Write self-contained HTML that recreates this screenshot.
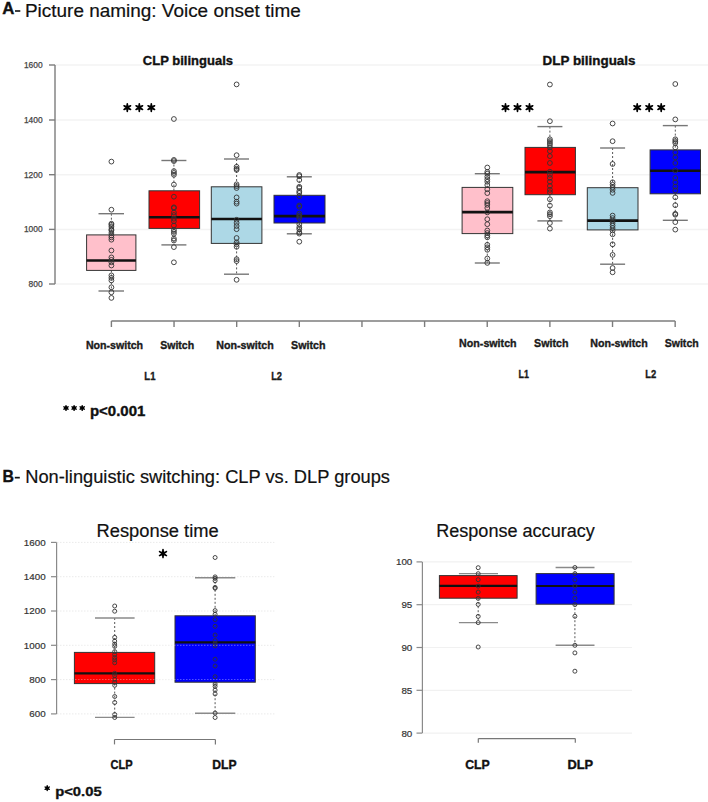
<!DOCTYPE html><html><head><meta charset="utf-8"><style>html,body{margin:0;padding:0;background:#fff;}svg{display:block;}</style></head><body>
<svg width="708" height="802" viewBox="0 0 708 802" font-family='"Liberation Sans", sans-serif'>
<rect width="708" height="802" fill="#fff"/>
<line x1="55" y1="65" x2="708" y2="65" stroke="#f3f3f3" stroke-width="1.5"/>
<line x1="55" y1="120" x2="708" y2="120" stroke="#f3f3f3" stroke-width="1.5"/>
<line x1="55" y1="174.7" x2="708" y2="174.7" stroke="#f3f3f3" stroke-width="1.5"/>
<line x1="55" y1="229.4" x2="708" y2="229.4" stroke="#f3f3f3" stroke-width="1.5"/>
<line x1="55" y1="284" x2="708" y2="284" stroke="#f3f3f3" stroke-width="1.5"/>
<line x1="55" y1="65" x2="55" y2="284" stroke="#7c7c7c" stroke-width="1.4"/>
<line x1="49" y1="65" x2="55" y2="65" stroke="#7c7c7c" stroke-width="1.4"/>
<text x="42.6" y="67.9" font-size="8.4" fill="#444" text-anchor="end" stroke="#444" stroke-width="0.25">1600</text>
<line x1="49" y1="120" x2="55" y2="120" stroke="#7c7c7c" stroke-width="1.4"/>
<text x="42.6" y="122.9" font-size="8.4" fill="#444" text-anchor="end" stroke="#444" stroke-width="0.25">1400</text>
<line x1="49" y1="174.7" x2="55" y2="174.7" stroke="#7c7c7c" stroke-width="1.4"/>
<text x="42.6" y="177.6" font-size="8.4" fill="#444" text-anchor="end" stroke="#444" stroke-width="0.25">1200</text>
<line x1="49" y1="229.4" x2="55" y2="229.4" stroke="#7c7c7c" stroke-width="1.4"/>
<text x="42.6" y="232.3" font-size="8.4" fill="#444" text-anchor="end" stroke="#444" stroke-width="0.25">1000</text>
<line x1="49" y1="284" x2="55" y2="284" stroke="#7c7c7c" stroke-width="1.4"/>
<text x="42.6" y="286.9" font-size="8.4" fill="#444" text-anchor="end" stroke="#444" stroke-width="0.25">800</text>
<line x1="111.4" y1="321" x2="675.16" y2="321" stroke="#7c7c7c" stroke-width="1.4"/>
<line x1="111.4" y1="321" x2="111.4" y2="327" stroke="#7c7c7c" stroke-width="1.4"/>
<line x1="174.04000000000002" y1="321" x2="174.04000000000002" y2="327" stroke="#7c7c7c" stroke-width="1.4"/>
<line x1="236.68" y1="321" x2="236.68" y2="327" stroke="#7c7c7c" stroke-width="1.4"/>
<line x1="299.32000000000005" y1="321" x2="299.32000000000005" y2="327" stroke="#7c7c7c" stroke-width="1.4"/>
<line x1="361.96000000000004" y1="321" x2="361.96000000000004" y2="327" stroke="#7c7c7c" stroke-width="1.4"/>
<line x1="424.6" y1="321" x2="424.6" y2="327" stroke="#7c7c7c" stroke-width="1.4"/>
<line x1="487.24" y1="321" x2="487.24" y2="327" stroke="#7c7c7c" stroke-width="1.4"/>
<line x1="549.88" y1="321" x2="549.88" y2="327" stroke="#7c7c7c" stroke-width="1.4"/>
<line x1="612.52" y1="321" x2="612.52" y2="327" stroke="#7c7c7c" stroke-width="1.4"/>
<line x1="675.16" y1="321" x2="675.16" y2="327" stroke="#7c7c7c" stroke-width="1.4"/>
<line x1="111.4" y1="213.7" x2="111.4" y2="234.9" stroke="#444" stroke-width="0.9" stroke-dasharray="2,2"/>
<line x1="111.4" y1="270.4" x2="111.4" y2="291" stroke="#444" stroke-width="0.9" stroke-dasharray="2,2"/>
<line x1="98.5" y1="213.7" x2="124" y2="213.7" stroke="#777" stroke-width="1.4"/>
<line x1="98.5" y1="291" x2="124" y2="291" stroke="#777" stroke-width="1.4"/>
<rect x="86.6" y="234.9" width="49.30000000000001" height="35.49999999999997" fill="#ffc0cb" stroke="#333" stroke-width="1"/>
<line x1="86.6" y1="260.5" x2="135.9" y2="260.5" stroke="#111" stroke-width="2.6"/>
<circle cx="111.4" cy="161.6" r="2.4" fill="none" stroke="#333" stroke-width="0.9"/>
<circle cx="111.4" cy="209.7" r="2.4" fill="none" stroke="#333" stroke-width="0.9"/>
<circle cx="111.4" cy="223.7" r="2.4" fill="none" stroke="#333" stroke-width="0.9"/>
<circle cx="111.4" cy="224.9" r="2.4" fill="none" stroke="#333" stroke-width="0.9"/>
<circle cx="111.4" cy="226.8" r="2.4" fill="none" stroke="#333" stroke-width="0.9"/>
<circle cx="111.4" cy="229.3" r="2.4" fill="none" stroke="#333" stroke-width="0.9"/>
<circle cx="111.4" cy="230.5" r="2.4" fill="none" stroke="#333" stroke-width="0.9"/>
<circle cx="111.4" cy="233" r="2.4" fill="none" stroke="#333" stroke-width="0.9"/>
<circle cx="111.4" cy="235.5" r="2.4" fill="none" stroke="#333" stroke-width="0.9"/>
<circle cx="111.4" cy="237.4" r="2.4" fill="none" stroke="#333" stroke-width="0.9"/>
<circle cx="111.4" cy="239.7" r="2.4" fill="none" stroke="#333" stroke-width="0.9"/>
<circle cx="111.4" cy="250.5" r="2.4" fill="none" stroke="#333" stroke-width="0.9"/>
<circle cx="111.4" cy="257.4" r="2.4" fill="none" stroke="#333" stroke-width="0.9"/>
<circle cx="111.4" cy="259.9" r="2.4" fill="none" stroke="#333" stroke-width="0.9"/>
<circle cx="111.4" cy="262.3" r="2.4" fill="none" stroke="#333" stroke-width="0.9"/>
<circle cx="111.4" cy="265.5" r="2.4" fill="none" stroke="#333" stroke-width="0.9"/>
<circle cx="111.4" cy="275.4" r="2.4" fill="none" stroke="#333" stroke-width="0.9"/>
<circle cx="111.4" cy="277.9" r="2.4" fill="none" stroke="#333" stroke-width="0.9"/>
<circle cx="111.4" cy="280.4" r="2.4" fill="none" stroke="#333" stroke-width="0.9"/>
<circle cx="111.4" cy="287.3" r="2.4" fill="none" stroke="#333" stroke-width="0.9"/>
<circle cx="111.4" cy="292.3" r="2.4" fill="none" stroke="#333" stroke-width="0.9"/>
<circle cx="111.4" cy="297.9" r="2.4" fill="none" stroke="#333" stroke-width="0.9"/>
<line x1="173.9" y1="160.5" x2="173.9" y2="190.8" stroke="#444" stroke-width="0.9" stroke-dasharray="2,2"/>
<line x1="173.9" y1="228.4" x2="173.9" y2="244.9" stroke="#444" stroke-width="0.9" stroke-dasharray="2,2"/>
<line x1="161.4" y1="160.5" x2="186.4" y2="160.5" stroke="#777" stroke-width="1.4"/>
<line x1="161.4" y1="244.9" x2="186.4" y2="244.9" stroke="#777" stroke-width="1.4"/>
<rect x="149" y="190.8" width="50.599999999999994" height="37.599999999999994" fill="#ff0000" stroke="#333" stroke-width="1"/>
<line x1="149" y1="217.2" x2="199.6" y2="217.2" stroke="#111" stroke-width="2.6"/>
<circle cx="173.9" cy="119" r="2.4" fill="none" stroke="#333" stroke-width="0.9"/>
<circle cx="173.9" cy="159.9" r="2.4" fill="none" stroke="#333" stroke-width="0.9"/>
<circle cx="173.9" cy="161.1" r="2.4" fill="none" stroke="#333" stroke-width="0.9"/>
<circle cx="173.9" cy="171.1" r="2.4" fill="none" stroke="#333" stroke-width="0.9"/>
<circle cx="173.9" cy="173" r="2.4" fill="none" stroke="#333" stroke-width="0.9"/>
<circle cx="173.9" cy="174.8" r="2.4" fill="none" stroke="#333" stroke-width="0.9"/>
<circle cx="173.9" cy="184.6" r="2.4" fill="none" stroke="#333" stroke-width="0.9"/>
<circle cx="173.9" cy="196.7" r="2.4" fill="none" stroke="#333" stroke-width="0.9"/>
<circle cx="173.9" cy="207.3" r="2.4" fill="none" stroke="#333" stroke-width="0.9"/>
<circle cx="173.9" cy="208.1" r="2.4" fill="none" stroke="#333" stroke-width="0.9"/>
<circle cx="173.9" cy="212.5" r="2.4" fill="none" stroke="#333" stroke-width="0.9"/>
<circle cx="173.9" cy="215" r="2.4" fill="none" stroke="#333" stroke-width="0.9"/>
<circle cx="173.9" cy="218.7" r="2.4" fill="none" stroke="#333" stroke-width="0.9"/>
<circle cx="173.9" cy="221.2" r="2.4" fill="none" stroke="#333" stroke-width="0.9"/>
<circle cx="173.9" cy="225.5" r="2.4" fill="none" stroke="#333" stroke-width="0.9"/>
<circle cx="173.9" cy="229.9" r="2.4" fill="none" stroke="#333" stroke-width="0.9"/>
<circle cx="173.9" cy="231.8" r="2.4" fill="none" stroke="#333" stroke-width="0.9"/>
<circle cx="173.9" cy="233.7" r="2.4" fill="none" stroke="#333" stroke-width="0.9"/>
<circle cx="173.9" cy="238.6" r="2.4" fill="none" stroke="#333" stroke-width="0.9"/>
<circle cx="173.9" cy="240.5" r="2.4" fill="none" stroke="#333" stroke-width="0.9"/>
<circle cx="173.9" cy="247.1" r="2.4" fill="none" stroke="#333" stroke-width="0.9"/>
<circle cx="173.9" cy="262.3" r="2.4" fill="none" stroke="#333" stroke-width="0.9"/>
<line x1="236.6" y1="159" x2="236.6" y2="186.8" stroke="#444" stroke-width="0.9" stroke-dasharray="2,2"/>
<line x1="236.6" y1="243.4" x2="236.6" y2="274.2" stroke="#444" stroke-width="0.9" stroke-dasharray="2,2"/>
<line x1="224" y1="159" x2="249" y2="159" stroke="#777" stroke-width="1.4"/>
<line x1="224" y1="274.2" x2="249" y2="274.2" stroke="#777" stroke-width="1.4"/>
<rect x="211.3" y="186.8" width="50.599999999999966" height="56.599999999999994" fill="#add8e6" stroke="#333" stroke-width="1"/>
<line x1="211.3" y1="219" x2="261.9" y2="219" stroke="#111" stroke-width="2.6"/>
<circle cx="236.6" cy="84.4" r="2.4" fill="none" stroke="#333" stroke-width="0.9"/>
<circle cx="236.6" cy="155.2" r="2.4" fill="none" stroke="#333" stroke-width="0.9"/>
<circle cx="236.6" cy="166.8" r="2.4" fill="none" stroke="#333" stroke-width="0.9"/>
<circle cx="236.6" cy="168.7" r="2.4" fill="none" stroke="#333" stroke-width="0.9"/>
<circle cx="236.6" cy="169.9" r="2.4" fill="none" stroke="#333" stroke-width="0.9"/>
<circle cx="236.6" cy="184.3" r="2.4" fill="none" stroke="#333" stroke-width="0.9"/>
<circle cx="236.6" cy="186.1" r="2.4" fill="none" stroke="#333" stroke-width="0.9"/>
<circle cx="236.6" cy="188" r="2.4" fill="none" stroke="#333" stroke-width="0.9"/>
<circle cx="236.6" cy="197.4" r="2.4" fill="none" stroke="#333" stroke-width="0.9"/>
<circle cx="236.6" cy="201.7" r="2.4" fill="none" stroke="#333" stroke-width="0.9"/>
<circle cx="236.6" cy="203.6" r="2.4" fill="none" stroke="#333" stroke-width="0.9"/>
<circle cx="236.6" cy="219.8" r="2.4" fill="none" stroke="#333" stroke-width="0.9"/>
<circle cx="236.6" cy="222.9" r="2.4" fill="none" stroke="#333" stroke-width="0.9"/>
<circle cx="236.6" cy="226" r="2.4" fill="none" stroke="#333" stroke-width="0.9"/>
<circle cx="236.6" cy="229.2" r="2.4" fill="none" stroke="#333" stroke-width="0.9"/>
<circle cx="236.6" cy="238" r="2.4" fill="none" stroke="#333" stroke-width="0.9"/>
<circle cx="236.6" cy="242.4" r="2.4" fill="none" stroke="#333" stroke-width="0.9"/>
<circle cx="236.6" cy="244.3" r="2.4" fill="none" stroke="#333" stroke-width="0.9"/>
<circle cx="236.6" cy="246.8" r="2.4" fill="none" stroke="#333" stroke-width="0.9"/>
<circle cx="236.6" cy="259.2" r="2.4" fill="none" stroke="#333" stroke-width="0.9"/>
<circle cx="236.6" cy="261.1" r="2.4" fill="none" stroke="#333" stroke-width="0.9"/>
<circle cx="236.6" cy="279.8" r="2.4" fill="none" stroke="#333" stroke-width="0.9"/>
<line x1="299.3" y1="176.8" x2="299.3" y2="195.3" stroke="#444" stroke-width="0.9" stroke-dasharray="2,2"/>
<line x1="299.3" y1="223" x2="299.3" y2="233.8" stroke="#444" stroke-width="0.9" stroke-dasharray="2,2"/>
<line x1="286.8" y1="176.8" x2="311.8" y2="176.8" stroke="#777" stroke-width="1.4"/>
<line x1="286.8" y1="233.8" x2="311.8" y2="233.8" stroke="#777" stroke-width="1.4"/>
<rect x="274" y="195.3" width="51" height="27.69999999999999" fill="#0000ff" stroke="#333" stroke-width="1"/>
<line x1="274" y1="216.1" x2="325" y2="216.1" stroke="#111" stroke-width="2.6"/>
<circle cx="299.3" cy="175" r="2.4" fill="none" stroke="#333" stroke-width="0.9"/>
<circle cx="299.3" cy="176.2" r="2.4" fill="none" stroke="#333" stroke-width="0.9"/>
<circle cx="299.3" cy="180" r="2.4" fill="none" stroke="#333" stroke-width="0.9"/>
<circle cx="299.3" cy="186.8" r="2.4" fill="none" stroke="#333" stroke-width="0.9"/>
<circle cx="299.3" cy="188" r="2.4" fill="none" stroke="#333" stroke-width="0.9"/>
<circle cx="299.3" cy="191.2" r="2.4" fill="none" stroke="#333" stroke-width="0.9"/>
<circle cx="299.3" cy="193" r="2.4" fill="none" stroke="#333" stroke-width="0.9"/>
<circle cx="299.3" cy="196.2" r="2.4" fill="none" stroke="#333" stroke-width="0.9"/>
<circle cx="299.3" cy="205.5" r="2.4" fill="none" stroke="#333" stroke-width="0.9"/>
<circle cx="299.3" cy="206.8" r="2.4" fill="none" stroke="#333" stroke-width="0.9"/>
<circle cx="299.3" cy="213.6" r="2.4" fill="none" stroke="#333" stroke-width="0.9"/>
<circle cx="299.3" cy="215.5" r="2.4" fill="none" stroke="#333" stroke-width="0.9"/>
<circle cx="299.3" cy="216.7" r="2.4" fill="none" stroke="#333" stroke-width="0.9"/>
<circle cx="299.3" cy="218.6" r="2.4" fill="none" stroke="#333" stroke-width="0.9"/>
<circle cx="299.3" cy="224.2" r="2.4" fill="none" stroke="#333" stroke-width="0.9"/>
<circle cx="299.3" cy="227.3" r="2.4" fill="none" stroke="#333" stroke-width="0.9"/>
<circle cx="299.3" cy="229.2" r="2.4" fill="none" stroke="#333" stroke-width="0.9"/>
<circle cx="299.3" cy="232.3" r="2.4" fill="none" stroke="#333" stroke-width="0.9"/>
<circle cx="299.3" cy="233.6" r="2.4" fill="none" stroke="#333" stroke-width="0.9"/>
<circle cx="299.3" cy="241.7" r="2.4" fill="none" stroke="#333" stroke-width="0.9"/>
<line x1="487.3" y1="173.7" x2="487.3" y2="187.4" stroke="#444" stroke-width="0.9" stroke-dasharray="2,2"/>
<line x1="487.3" y1="233.6" x2="487.3" y2="263" stroke="#444" stroke-width="0.9" stroke-dasharray="2,2"/>
<line x1="474.8" y1="173.7" x2="499.8" y2="173.7" stroke="#777" stroke-width="1.4"/>
<line x1="474.8" y1="263" x2="499.8" y2="263" stroke="#777" stroke-width="1.4"/>
<rect x="462.1" y="187.4" width="50.69999999999993" height="46.19999999999999" fill="#ffc0cb" stroke="#333" stroke-width="1"/>
<line x1="462.1" y1="212.1" x2="512.8" y2="212.1" stroke="#111" stroke-width="2.6"/>
<circle cx="487.3" cy="167.5" r="2.4" fill="none" stroke="#333" stroke-width="0.9"/>
<circle cx="487.3" cy="171.9" r="2.4" fill="none" stroke="#333" stroke-width="0.9"/>
<circle cx="487.3" cy="173.7" r="2.4" fill="none" stroke="#333" stroke-width="0.9"/>
<circle cx="487.3" cy="176.8" r="2.4" fill="none" stroke="#333" stroke-width="0.9"/>
<circle cx="487.3" cy="179.3" r="2.4" fill="none" stroke="#333" stroke-width="0.9"/>
<circle cx="487.3" cy="181.8" r="2.4" fill="none" stroke="#333" stroke-width="0.9"/>
<circle cx="487.3" cy="185" r="2.4" fill="none" stroke="#333" stroke-width="0.9"/>
<circle cx="487.3" cy="189.3" r="2.4" fill="none" stroke="#333" stroke-width="0.9"/>
<circle cx="487.3" cy="193.1" r="2.4" fill="none" stroke="#333" stroke-width="0.9"/>
<circle cx="487.3" cy="201.2" r="2.4" fill="none" stroke="#333" stroke-width="0.9"/>
<circle cx="487.3" cy="203" r="2.4" fill="none" stroke="#333" stroke-width="0.9"/>
<circle cx="487.3" cy="204.9" r="2.4" fill="none" stroke="#333" stroke-width="0.9"/>
<circle cx="487.3" cy="208" r="2.4" fill="none" stroke="#333" stroke-width="0.9"/>
<circle cx="487.3" cy="212.4" r="2.4" fill="none" stroke="#333" stroke-width="0.9"/>
<circle cx="487.3" cy="219.2" r="2.4" fill="none" stroke="#333" stroke-width="0.9"/>
<circle cx="487.3" cy="224.2" r="2.4" fill="none" stroke="#333" stroke-width="0.9"/>
<circle cx="487.3" cy="230.5" r="2.4" fill="none" stroke="#333" stroke-width="0.9"/>
<circle cx="487.3" cy="233" r="2.4" fill="none" stroke="#333" stroke-width="0.9"/>
<circle cx="487.3" cy="235.4" r="2.4" fill="none" stroke="#333" stroke-width="0.9"/>
<circle cx="487.3" cy="237.3" r="2.4" fill="none" stroke="#333" stroke-width="0.9"/>
<circle cx="487.3" cy="244.8" r="2.4" fill="none" stroke="#333" stroke-width="0.9"/>
<circle cx="487.3" cy="247.3" r="2.4" fill="none" stroke="#333" stroke-width="0.9"/>
<circle cx="487.3" cy="249.8" r="2.4" fill="none" stroke="#333" stroke-width="0.9"/>
<circle cx="487.3" cy="258.5" r="2.4" fill="none" stroke="#333" stroke-width="0.9"/>
<circle cx="487.3" cy="262.9" r="2.4" fill="none" stroke="#333" stroke-width="0.9"/>
<line x1="549.9" y1="126.6" x2="549.9" y2="147.4" stroke="#444" stroke-width="0.9" stroke-dasharray="2,2"/>
<line x1="549.9" y1="194.7" x2="549.9" y2="220.9" stroke="#444" stroke-width="0.9" stroke-dasharray="2,2"/>
<line x1="537.4" y1="126.6" x2="562.4" y2="126.6" stroke="#777" stroke-width="1.4"/>
<line x1="537.4" y1="220.9" x2="562.4" y2="220.9" stroke="#777" stroke-width="1.4"/>
<rect x="525" y="147.4" width="50.39999999999998" height="47.29999999999998" fill="#ff0000" stroke="#333" stroke-width="1"/>
<line x1="525" y1="172.1" x2="575.4" y2="172.1" stroke="#111" stroke-width="2.6"/>
<circle cx="549.9" cy="84.5" r="2.4" fill="none" stroke="#333" stroke-width="0.9"/>
<circle cx="549.9" cy="121.2" r="2.4" fill="none" stroke="#333" stroke-width="0.9"/>
<circle cx="549.9" cy="139.3" r="2.4" fill="none" stroke="#333" stroke-width="0.9"/>
<circle cx="549.9" cy="141.1" r="2.4" fill="none" stroke="#333" stroke-width="0.9"/>
<circle cx="549.9" cy="143" r="2.4" fill="none" stroke="#333" stroke-width="0.9"/>
<circle cx="549.9" cy="144.9" r="2.4" fill="none" stroke="#333" stroke-width="0.9"/>
<circle cx="549.9" cy="147.4" r="2.4" fill="none" stroke="#333" stroke-width="0.9"/>
<circle cx="549.9" cy="151.1" r="2.4" fill="none" stroke="#333" stroke-width="0.9"/>
<circle cx="549.9" cy="156.1" r="2.4" fill="none" stroke="#333" stroke-width="0.9"/>
<circle cx="549.9" cy="163" r="2.4" fill="none" stroke="#333" stroke-width="0.9"/>
<circle cx="549.9" cy="171.7" r="2.4" fill="none" stroke="#333" stroke-width="0.9"/>
<circle cx="549.9" cy="174.8" r="2.4" fill="none" stroke="#333" stroke-width="0.9"/>
<circle cx="549.9" cy="177.9" r="2.4" fill="none" stroke="#333" stroke-width="0.9"/>
<circle cx="549.9" cy="181.7" r="2.4" fill="none" stroke="#333" stroke-width="0.9"/>
<circle cx="549.9" cy="186" r="2.4" fill="none" stroke="#333" stroke-width="0.9"/>
<circle cx="549.9" cy="189.8" r="2.4" fill="none" stroke="#333" stroke-width="0.9"/>
<circle cx="549.9" cy="192.3" r="2.4" fill="none" stroke="#333" stroke-width="0.9"/>
<circle cx="549.9" cy="199.3" r="2.4" fill="none" stroke="#333" stroke-width="0.9"/>
<circle cx="549.9" cy="205.6" r="2.4" fill="none" stroke="#333" stroke-width="0.9"/>
<circle cx="549.9" cy="212.4" r="2.4" fill="none" stroke="#333" stroke-width="0.9"/>
<circle cx="549.9" cy="214.3" r="2.4" fill="none" stroke="#333" stroke-width="0.9"/>
<circle cx="549.9" cy="216.2" r="2.4" fill="none" stroke="#333" stroke-width="0.9"/>
<circle cx="549.9" cy="223" r="2.4" fill="none" stroke="#333" stroke-width="0.9"/>
<circle cx="549.9" cy="228.6" r="2.4" fill="none" stroke="#333" stroke-width="0.9"/>
<line x1="612.6" y1="148" x2="612.6" y2="187.7" stroke="#444" stroke-width="0.9" stroke-dasharray="2,2"/>
<line x1="612.6" y1="229.9" x2="612.6" y2="264.2" stroke="#444" stroke-width="0.9" stroke-dasharray="2,2"/>
<line x1="600.1" y1="148" x2="625.1" y2="148" stroke="#777" stroke-width="1.4"/>
<line x1="600.1" y1="264.2" x2="625.1" y2="264.2" stroke="#777" stroke-width="1.4"/>
<rect x="587.3" y="187.7" width="50.700000000000045" height="42.20000000000002" fill="#add8e6" stroke="#333" stroke-width="1"/>
<line x1="587.3" y1="220.6" x2="638" y2="220.6" stroke="#111" stroke-width="2.6"/>
<circle cx="612.6" cy="123.5" r="2.4" fill="none" stroke="#333" stroke-width="0.9"/>
<circle cx="612.6" cy="141.2" r="2.4" fill="none" stroke="#333" stroke-width="0.9"/>
<circle cx="612.6" cy="164" r="2.4" fill="none" stroke="#333" stroke-width="0.9"/>
<circle cx="612.6" cy="182.3" r="2.4" fill="none" stroke="#333" stroke-width="0.9"/>
<circle cx="612.6" cy="184.8" r="2.4" fill="none" stroke="#333" stroke-width="0.9"/>
<circle cx="612.6" cy="187.3" r="2.4" fill="none" stroke="#333" stroke-width="0.9"/>
<circle cx="612.6" cy="189.8" r="2.4" fill="none" stroke="#333" stroke-width="0.9"/>
<circle cx="612.6" cy="192.9" r="2.4" fill="none" stroke="#333" stroke-width="0.9"/>
<circle cx="612.6" cy="215.6" r="2.4" fill="none" stroke="#333" stroke-width="0.9"/>
<circle cx="612.6" cy="218.1" r="2.4" fill="none" stroke="#333" stroke-width="0.9"/>
<circle cx="612.6" cy="220.6" r="2.4" fill="none" stroke="#333" stroke-width="0.9"/>
<circle cx="612.6" cy="223.1" r="2.4" fill="none" stroke="#333" stroke-width="0.9"/>
<circle cx="612.6" cy="225.6" r="2.4" fill="none" stroke="#333" stroke-width="0.9"/>
<circle cx="612.6" cy="228.1" r="2.4" fill="none" stroke="#333" stroke-width="0.9"/>
<circle cx="612.6" cy="230.5" r="2.4" fill="none" stroke="#333" stroke-width="0.9"/>
<circle cx="612.6" cy="234.3" r="2.4" fill="none" stroke="#333" stroke-width="0.9"/>
<circle cx="612.6" cy="244.3" r="2.4" fill="none" stroke="#333" stroke-width="0.9"/>
<circle cx="612.6" cy="254.9" r="2.4" fill="none" stroke="#333" stroke-width="0.9"/>
<circle cx="612.6" cy="268" r="2.4" fill="none" stroke="#333" stroke-width="0.9"/>
<circle cx="612.6" cy="272.3" r="2.4" fill="none" stroke="#333" stroke-width="0.9"/>
<line x1="675.3" y1="125.6" x2="675.3" y2="149.9" stroke="#444" stroke-width="0.9" stroke-dasharray="2,2"/>
<line x1="675.3" y1="193.8" x2="675.3" y2="220.3" stroke="#444" stroke-width="0.9" stroke-dasharray="2,2"/>
<line x1="662.8" y1="125.6" x2="687.8" y2="125.6" stroke="#777" stroke-width="1.4"/>
<line x1="662.8" y1="220.3" x2="687.8" y2="220.3" stroke="#777" stroke-width="1.4"/>
<rect x="650.1" y="149.9" width="50.39999999999998" height="43.900000000000006" fill="#0000ff" stroke="#333" stroke-width="1"/>
<line x1="650.1" y1="170.8" x2="700.5" y2="170.8" stroke="#111" stroke-width="2.6"/>
<circle cx="675.3" cy="84" r="2.4" fill="none" stroke="#333" stroke-width="0.9"/>
<circle cx="675.3" cy="119.4" r="2.4" fill="none" stroke="#333" stroke-width="0.9"/>
<circle cx="675.3" cy="139.3" r="2.4" fill="none" stroke="#333" stroke-width="0.9"/>
<circle cx="675.3" cy="141.2" r="2.4" fill="none" stroke="#333" stroke-width="0.9"/>
<circle cx="675.3" cy="143" r="2.4" fill="none" stroke="#333" stroke-width="0.9"/>
<circle cx="675.3" cy="147.4" r="2.4" fill="none" stroke="#333" stroke-width="0.9"/>
<circle cx="675.3" cy="152.4" r="2.4" fill="none" stroke="#333" stroke-width="0.9"/>
<circle cx="675.3" cy="157.4" r="2.4" fill="none" stroke="#333" stroke-width="0.9"/>
<circle cx="675.3" cy="163" r="2.4" fill="none" stroke="#333" stroke-width="0.9"/>
<circle cx="675.3" cy="170.5" r="2.4" fill="none" stroke="#333" stroke-width="0.9"/>
<circle cx="675.3" cy="178" r="2.4" fill="none" stroke="#333" stroke-width="0.9"/>
<circle cx="675.3" cy="182.3" r="2.4" fill="none" stroke="#333" stroke-width="0.9"/>
<circle cx="675.3" cy="186.7" r="2.4" fill="none" stroke="#333" stroke-width="0.9"/>
<circle cx="675.3" cy="190.4" r="2.4" fill="none" stroke="#333" stroke-width="0.9"/>
<circle cx="675.3" cy="197.3" r="2.4" fill="none" stroke="#333" stroke-width="0.9"/>
<circle cx="675.3" cy="205.2" r="2.4" fill="none" stroke="#333" stroke-width="0.9"/>
<circle cx="675.3" cy="213.8" r="2.4" fill="none" stroke="#333" stroke-width="0.9"/>
<circle cx="675.3" cy="214.7" r="2.4" fill="none" stroke="#333" stroke-width="0.9"/>
<circle cx="675.3" cy="222.1" r="2.4" fill="none" stroke="#333" stroke-width="0.9"/>
<circle cx="675.3" cy="229.6" r="2.4" fill="none" stroke="#333" stroke-width="0.9"/>
<path d="M128.54,107.60L128.10,103.80L126.50,103.80L126.06,107.60ZM128.10,103.80a0.80,0.80 0 1,0 -1.60,0a0.80,0.80 0 1,0 1.60,0ZM126.06,107.60L126.50,111.40L128.10,111.40L128.54,107.60ZM128.10,111.40a0.80,0.80 0 1,0 -1.60,0a0.80,0.80 0 1,0 1.60,0ZM127.92,108.67L130.99,106.39L130.19,105.01L126.68,106.53ZM131.39,105.70a0.80,0.80 0 1,0 -1.60,0a0.80,0.80 0 1,0 1.60,0ZM126.68,106.53L123.61,108.81L124.41,110.19L127.92,108.67ZM124.81,109.50a0.80,0.80 0 1,0 -1.60,0a0.80,0.80 0 1,0 1.60,0ZM126.68,108.67L130.19,110.19L130.99,108.81L127.92,106.53ZM131.39,109.50a0.80,0.80 0 1,0 -1.60,0a0.80,0.80 0 1,0 1.60,0ZM127.92,106.53L124.41,105.01L123.61,106.39L126.68,108.67ZM124.81,105.70a0.80,0.80 0 1,0 -1.60,0a0.80,0.80 0 1,0 1.60,0Z" fill="#000"/>
<circle cx="127.3" cy="107.6" r="1.36" fill="#000"/>
<path d="M140.54,107.60L140.10,103.80L138.50,103.80L138.06,107.60ZM140.10,103.80a0.80,0.80 0 1,0 -1.60,0a0.80,0.80 0 1,0 1.60,0ZM138.06,107.60L138.50,111.40L140.10,111.40L140.54,107.60ZM140.10,111.40a0.80,0.80 0 1,0 -1.60,0a0.80,0.80 0 1,0 1.60,0ZM139.92,108.67L142.99,106.39L142.19,105.01L138.68,106.53ZM143.39,105.70a0.80,0.80 0 1,0 -1.60,0a0.80,0.80 0 1,0 1.60,0ZM138.68,106.53L135.61,108.81L136.41,110.19L139.92,108.67ZM136.81,109.50a0.80,0.80 0 1,0 -1.60,0a0.80,0.80 0 1,0 1.60,0ZM138.68,108.67L142.19,110.19L142.99,108.81L139.92,106.53ZM143.39,109.50a0.80,0.80 0 1,0 -1.60,0a0.80,0.80 0 1,0 1.60,0ZM139.92,106.53L136.41,105.01L135.61,106.39L138.68,108.67ZM136.81,105.70a0.80,0.80 0 1,0 -1.60,0a0.80,0.80 0 1,0 1.60,0Z" fill="#000"/>
<circle cx="139.3" cy="107.6" r="1.36" fill="#000"/>
<path d="M152.54,107.60L152.10,103.80L150.50,103.80L150.06,107.60ZM152.10,103.80a0.80,0.80 0 1,0 -1.60,0a0.80,0.80 0 1,0 1.60,0ZM150.06,107.60L150.50,111.40L152.10,111.40L152.54,107.60ZM152.10,111.40a0.80,0.80 0 1,0 -1.60,0a0.80,0.80 0 1,0 1.60,0ZM151.92,108.67L154.99,106.39L154.19,105.01L150.68,106.53ZM155.39,105.70a0.80,0.80 0 1,0 -1.60,0a0.80,0.80 0 1,0 1.60,0ZM150.68,106.53L147.61,108.81L148.41,110.19L151.92,108.67ZM148.81,109.50a0.80,0.80 0 1,0 -1.60,0a0.80,0.80 0 1,0 1.60,0ZM150.68,108.67L154.19,110.19L154.99,108.81L151.92,106.53ZM155.39,109.50a0.80,0.80 0 1,0 -1.60,0a0.80,0.80 0 1,0 1.60,0ZM151.92,106.53L148.41,105.01L147.61,106.39L150.68,108.67ZM148.81,105.70a0.80,0.80 0 1,0 -1.60,0a0.80,0.80 0 1,0 1.60,0Z" fill="#000"/>
<circle cx="151.3" cy="107.6" r="1.36" fill="#000"/>
<path d="M506.74,107.60L506.30,103.80L504.70,103.80L504.26,107.60ZM506.30,103.80a0.80,0.80 0 1,0 -1.60,0a0.80,0.80 0 1,0 1.60,0ZM504.26,107.60L504.70,111.40L506.30,111.40L506.74,107.60ZM506.30,111.40a0.80,0.80 0 1,0 -1.60,0a0.80,0.80 0 1,0 1.60,0ZM506.12,108.67L509.19,106.39L508.39,105.01L504.88,106.53ZM509.59,105.70a0.80,0.80 0 1,0 -1.60,0a0.80,0.80 0 1,0 1.60,0ZM504.88,106.53L501.81,108.81L502.61,110.19L506.12,108.67ZM503.01,109.50a0.80,0.80 0 1,0 -1.60,0a0.80,0.80 0 1,0 1.60,0ZM504.88,108.67L508.39,110.19L509.19,108.81L506.12,106.53ZM509.59,109.50a0.80,0.80 0 1,0 -1.60,0a0.80,0.80 0 1,0 1.60,0ZM506.12,106.53L502.61,105.01L501.81,106.39L504.88,108.67ZM503.01,105.70a0.80,0.80 0 1,0 -1.60,0a0.80,0.80 0 1,0 1.60,0Z" fill="#000"/>
<circle cx="505.5" cy="107.6" r="1.36" fill="#000"/>
<path d="M518.74,107.60L518.30,103.80L516.70,103.80L516.26,107.60ZM518.30,103.80a0.80,0.80 0 1,0 -1.60,0a0.80,0.80 0 1,0 1.60,0ZM516.26,107.60L516.70,111.40L518.30,111.40L518.74,107.60ZM518.30,111.40a0.80,0.80 0 1,0 -1.60,0a0.80,0.80 0 1,0 1.60,0ZM518.12,108.67L521.19,106.39L520.39,105.01L516.88,106.53ZM521.59,105.70a0.80,0.80 0 1,0 -1.60,0a0.80,0.80 0 1,0 1.60,0ZM516.88,106.53L513.81,108.81L514.61,110.19L518.12,108.67ZM515.01,109.50a0.80,0.80 0 1,0 -1.60,0a0.80,0.80 0 1,0 1.60,0ZM516.88,108.67L520.39,110.19L521.19,108.81L518.12,106.53ZM521.59,109.50a0.80,0.80 0 1,0 -1.60,0a0.80,0.80 0 1,0 1.60,0ZM518.12,106.53L514.61,105.01L513.81,106.39L516.88,108.67ZM515.01,105.70a0.80,0.80 0 1,0 -1.60,0a0.80,0.80 0 1,0 1.60,0Z" fill="#000"/>
<circle cx="517.5" cy="107.6" r="1.36" fill="#000"/>
<path d="M530.74,107.60L530.30,103.80L528.70,103.80L528.26,107.60ZM530.30,103.80a0.80,0.80 0 1,0 -1.60,0a0.80,0.80 0 1,0 1.60,0ZM528.26,107.60L528.70,111.40L530.30,111.40L530.74,107.60ZM530.30,111.40a0.80,0.80 0 1,0 -1.60,0a0.80,0.80 0 1,0 1.60,0ZM530.12,108.67L533.19,106.39L532.39,105.01L528.88,106.53ZM533.59,105.70a0.80,0.80 0 1,0 -1.60,0a0.80,0.80 0 1,0 1.60,0ZM528.88,106.53L525.81,108.81L526.61,110.19L530.12,108.67ZM527.01,109.50a0.80,0.80 0 1,0 -1.60,0a0.80,0.80 0 1,0 1.60,0ZM528.88,108.67L532.39,110.19L533.19,108.81L530.12,106.53ZM533.59,109.50a0.80,0.80 0 1,0 -1.60,0a0.80,0.80 0 1,0 1.60,0ZM530.12,106.53L526.61,105.01L525.81,106.39L528.88,108.67ZM527.01,105.70a0.80,0.80 0 1,0 -1.60,0a0.80,0.80 0 1,0 1.60,0Z" fill="#000"/>
<circle cx="529.5" cy="107.6" r="1.36" fill="#000"/>
<path d="M638.44,107.60L638.00,103.80L636.40,103.80L635.96,107.60ZM638.00,103.80a0.80,0.80 0 1,0 -1.60,0a0.80,0.80 0 1,0 1.60,0ZM635.96,107.60L636.40,111.40L638.00,111.40L638.44,107.60ZM638.00,111.40a0.80,0.80 0 1,0 -1.60,0a0.80,0.80 0 1,0 1.60,0ZM637.82,108.67L640.89,106.39L640.09,105.01L636.58,106.53ZM641.29,105.70a0.80,0.80 0 1,0 -1.60,0a0.80,0.80 0 1,0 1.60,0ZM636.58,106.53L633.51,108.81L634.31,110.19L637.82,108.67ZM634.71,109.50a0.80,0.80 0 1,0 -1.60,0a0.80,0.80 0 1,0 1.60,0ZM636.58,108.67L640.09,110.19L640.89,108.81L637.82,106.53ZM641.29,109.50a0.80,0.80 0 1,0 -1.60,0a0.80,0.80 0 1,0 1.60,0ZM637.82,106.53L634.31,105.01L633.51,106.39L636.58,108.67ZM634.71,105.70a0.80,0.80 0 1,0 -1.60,0a0.80,0.80 0 1,0 1.60,0Z" fill="#000"/>
<circle cx="637.2" cy="107.6" r="1.36" fill="#000"/>
<path d="M650.44,107.60L650.00,103.80L648.40,103.80L647.96,107.60ZM650.00,103.80a0.80,0.80 0 1,0 -1.60,0a0.80,0.80 0 1,0 1.60,0ZM647.96,107.60L648.40,111.40L650.00,111.40L650.44,107.60ZM650.00,111.40a0.80,0.80 0 1,0 -1.60,0a0.80,0.80 0 1,0 1.60,0ZM649.82,108.67L652.89,106.39L652.09,105.01L648.58,106.53ZM653.29,105.70a0.80,0.80 0 1,0 -1.60,0a0.80,0.80 0 1,0 1.60,0ZM648.58,106.53L645.51,108.81L646.31,110.19L649.82,108.67ZM646.71,109.50a0.80,0.80 0 1,0 -1.60,0a0.80,0.80 0 1,0 1.60,0ZM648.58,108.67L652.09,110.19L652.89,108.81L649.82,106.53ZM653.29,109.50a0.80,0.80 0 1,0 -1.60,0a0.80,0.80 0 1,0 1.60,0ZM649.82,106.53L646.31,105.01L645.51,106.39L648.58,108.67ZM646.71,105.70a0.80,0.80 0 1,0 -1.60,0a0.80,0.80 0 1,0 1.60,0Z" fill="#000"/>
<circle cx="649.2" cy="107.6" r="1.36" fill="#000"/>
<path d="M662.44,107.60L662.00,103.80L660.40,103.80L659.96,107.60ZM662.00,103.80a0.80,0.80 0 1,0 -1.60,0a0.80,0.80 0 1,0 1.60,0ZM659.96,107.60L660.40,111.40L662.00,111.40L662.44,107.60ZM662.00,111.40a0.80,0.80 0 1,0 -1.60,0a0.80,0.80 0 1,0 1.60,0ZM661.82,108.67L664.89,106.39L664.09,105.01L660.58,106.53ZM665.29,105.70a0.80,0.80 0 1,0 -1.60,0a0.80,0.80 0 1,0 1.60,0ZM660.58,106.53L657.51,108.81L658.31,110.19L661.82,108.67ZM658.71,109.50a0.80,0.80 0 1,0 -1.60,0a0.80,0.80 0 1,0 1.60,0ZM660.58,108.67L664.09,110.19L664.89,108.81L661.82,106.53ZM665.29,109.50a0.80,0.80 0 1,0 -1.60,0a0.80,0.80 0 1,0 1.60,0ZM661.82,106.53L658.31,105.01L657.51,106.39L660.58,108.67ZM658.71,105.70a0.80,0.80 0 1,0 -1.60,0a0.80,0.80 0 1,0 1.60,0Z" fill="#000"/>
<circle cx="661.2" cy="107.6" r="1.36" fill="#000"/>
<path d="M67.05,408.00L66.68,405.58L65.32,405.58L64.95,408.00ZM66.68,405.58a0.68,0.68 0 1,0 -1.36,0a0.68,0.68 0 1,0 1.36,0ZM64.95,408.00L65.32,410.42L66.68,410.42L67.05,408.00ZM66.68,410.42a0.68,0.68 0 1,0 -1.36,0a0.68,0.68 0 1,0 1.36,0ZM66.53,408.91L68.44,407.38L67.76,406.20L65.47,407.09ZM68.78,406.79a0.68,0.68 0 1,0 -1.36,0a0.68,0.68 0 1,0 1.36,0ZM65.47,407.09L63.56,408.62L64.24,409.80L66.53,408.91ZM64.58,409.21a0.68,0.68 0 1,0 -1.36,0a0.68,0.68 0 1,0 1.36,0ZM65.47,408.91L67.76,409.80L68.44,408.62L66.53,407.09ZM68.78,409.21a0.68,0.68 0 1,0 -1.36,0a0.68,0.68 0 1,0 1.36,0ZM66.53,407.09L64.24,406.20L63.56,407.38L65.47,408.91ZM64.58,406.79a0.68,0.68 0 1,0 -1.36,0a0.68,0.68 0 1,0 1.36,0Z" fill="#000"/>
<circle cx="66.0" cy="408" r="1.16" fill="#000"/>
<path d="M75.15,408.00L74.78,405.58L73.42,405.58L73.05,408.00ZM74.78,405.58a0.68,0.68 0 1,0 -1.36,0a0.68,0.68 0 1,0 1.36,0ZM73.05,408.00L73.42,410.42L74.78,410.42L75.15,408.00ZM74.78,410.42a0.68,0.68 0 1,0 -1.36,0a0.68,0.68 0 1,0 1.36,0ZM74.63,408.91L76.54,407.38L75.86,406.20L73.57,407.09ZM76.88,406.79a0.68,0.68 0 1,0 -1.36,0a0.68,0.68 0 1,0 1.36,0ZM73.57,407.09L71.66,408.62L72.34,409.80L74.63,408.91ZM72.68,409.21a0.68,0.68 0 1,0 -1.36,0a0.68,0.68 0 1,0 1.36,0ZM73.57,408.91L75.86,409.80L76.54,408.62L74.63,407.09ZM76.88,409.21a0.68,0.68 0 1,0 -1.36,0a0.68,0.68 0 1,0 1.36,0ZM74.63,407.09L72.34,406.20L71.66,407.38L73.57,408.91ZM72.68,406.79a0.68,0.68 0 1,0 -1.36,0a0.68,0.68 0 1,0 1.36,0Z" fill="#000"/>
<circle cx="74.1" cy="408" r="1.16" fill="#000"/>
<path d="M83.25,408.00L82.88,405.58L81.52,405.58L81.15,408.00ZM82.88,405.58a0.68,0.68 0 1,0 -1.36,0a0.68,0.68 0 1,0 1.36,0ZM81.15,408.00L81.52,410.42L82.88,410.42L83.25,408.00ZM82.88,410.42a0.68,0.68 0 1,0 -1.36,0a0.68,0.68 0 1,0 1.36,0ZM82.73,408.91L84.64,407.38L83.96,406.20L81.67,407.09ZM84.98,406.79a0.68,0.68 0 1,0 -1.36,0a0.68,0.68 0 1,0 1.36,0ZM81.67,407.09L79.76,408.62L80.44,409.80L82.73,408.91ZM80.78,409.21a0.68,0.68 0 1,0 -1.36,0a0.68,0.68 0 1,0 1.36,0ZM81.67,408.91L83.96,409.80L84.64,408.62L82.73,407.09ZM84.98,409.21a0.68,0.68 0 1,0 -1.36,0a0.68,0.68 0 1,0 1.36,0ZM82.73,407.09L80.44,406.20L79.76,407.38L81.67,408.91ZM80.78,406.79a0.68,0.68 0 1,0 -1.36,0a0.68,0.68 0 1,0 1.36,0Z" fill="#000"/>
<circle cx="82.2" cy="408" r="1.16" fill="#000"/>
<line x1="57" y1="542.4" x2="274.4" y2="542.4" stroke="#eaeaea" stroke-width="1" stroke-dasharray="1.5,1.5"/>
<line x1="57" y1="576.7" x2="274.4" y2="576.7" stroke="#eaeaea" stroke-width="1" stroke-dasharray="1.5,1.5"/>
<line x1="57" y1="611" x2="274.4" y2="611" stroke="#eaeaea" stroke-width="1" stroke-dasharray="1.5,1.5"/>
<line x1="57" y1="645.3" x2="274.4" y2="645.3" stroke="#eaeaea" stroke-width="1" stroke-dasharray="1.5,1.5"/>
<line x1="57" y1="679.6" x2="274.4" y2="679.6" stroke="#eaeaea" stroke-width="1" stroke-dasharray="1.5,1.5"/>
<line x1="57" y1="713.9" x2="274.4" y2="713.9" stroke="#eaeaea" stroke-width="1" stroke-dasharray="1.5,1.5"/>
<line x1="56.6" y1="542.4" x2="56.6" y2="713.9" stroke="#8a8a8a" stroke-width="1.2"/>
<line x1="51" y1="542.4" x2="56.6" y2="542.4" stroke="#8a8a8a" stroke-width="1.2"/>
<text x="45.6" y="545.8" font-size="9.8" fill="#333" text-anchor="end" stroke="#333" stroke-width="0.2">1600</text>
<line x1="51" y1="576.7" x2="56.6" y2="576.7" stroke="#8a8a8a" stroke-width="1.2"/>
<text x="45.6" y="580.1" font-size="9.8" fill="#333" text-anchor="end" stroke="#333" stroke-width="0.2">1400</text>
<line x1="51" y1="611" x2="56.6" y2="611" stroke="#8a8a8a" stroke-width="1.2"/>
<text x="45.6" y="614.4" font-size="9.8" fill="#333" text-anchor="end" stroke="#333" stroke-width="0.2">1200</text>
<line x1="51" y1="645.3" x2="56.6" y2="645.3" stroke="#8a8a8a" stroke-width="1.2"/>
<text x="45.6" y="648.6999999999999" font-size="9.8" fill="#333" text-anchor="end" stroke="#333" stroke-width="0.2">1000</text>
<line x1="51" y1="679.6" x2="56.6" y2="679.6" stroke="#8a8a8a" stroke-width="1.2"/>
<text x="45.6" y="683.0" font-size="9.8" fill="#333" text-anchor="end" stroke="#333" stroke-width="0.2">800</text>
<line x1="51" y1="713.9" x2="56.6" y2="713.9" stroke="#8a8a8a" stroke-width="1.2"/>
<text x="45.6" y="717.3" font-size="9.8" fill="#333" text-anchor="end" stroke="#333" stroke-width="0.2">600</text>
<line x1="114.7" y1="618" x2="114.7" y2="652.4" stroke="#444" stroke-width="0.9" stroke-dasharray="2,2"/>
<line x1="114.7" y1="683.6" x2="114.7" y2="717.4" stroke="#444" stroke-width="0.9" stroke-dasharray="2,2"/>
<line x1="95" y1="618" x2="134.6" y2="618" stroke="#8a8a8a" stroke-width="1.4"/>
<line x1="95" y1="717.4" x2="134.6" y2="717.4" stroke="#8a8a8a" stroke-width="1.4"/>
<rect x="74.4" y="652.4" width="80.29999999999998" height="31.200000000000045" fill="#ff0000" stroke="#333" stroke-width="1"/>
<line x1="74.4" y1="673.3" x2="154.7" y2="673.3" stroke="#111" stroke-width="2.2"/>
<circle cx="114.7" cy="606" r="2.0" fill="none" stroke="#333" stroke-width="0.9"/>
<circle cx="114.7" cy="611.2" r="2.0" fill="none" stroke="#333" stroke-width="0.9"/>
<circle cx="114.7" cy="637.4" r="2.0" fill="none" stroke="#333" stroke-width="0.9"/>
<circle cx="114.7" cy="641.1" r="2.0" fill="none" stroke="#333" stroke-width="0.9"/>
<circle cx="114.7" cy="644.1" r="2.0" fill="none" stroke="#333" stroke-width="0.9"/>
<circle cx="114.7" cy="646.4" r="2.0" fill="none" stroke="#333" stroke-width="0.9"/>
<circle cx="114.7" cy="651.6" r="2.0" fill="none" stroke="#333" stroke-width="0.9"/>
<circle cx="114.7" cy="654.6" r="2.0" fill="none" stroke="#333" stroke-width="0.9"/>
<circle cx="114.7" cy="657.6" r="2.0" fill="none" stroke="#333" stroke-width="0.9"/>
<circle cx="114.7" cy="659.9" r="2.0" fill="none" stroke="#333" stroke-width="0.9"/>
<circle cx="114.7" cy="662.8" r="2.0" fill="none" stroke="#333" stroke-width="0.9"/>
<circle cx="114.7" cy="673.3" r="2.0" fill="none" stroke="#333" stroke-width="0.9"/>
<circle cx="114.7" cy="675.6" r="2.0" fill="none" stroke="#333" stroke-width="0.9"/>
<circle cx="114.7" cy="679.3" r="2.0" fill="none" stroke="#333" stroke-width="0.9"/>
<circle cx="114.7" cy="682.3" r="2.0" fill="none" stroke="#333" stroke-width="0.9"/>
<circle cx="114.7" cy="685.3" r="2.0" fill="none" stroke="#333" stroke-width="0.9"/>
<circle cx="114.7" cy="696.5" r="2.0" fill="none" stroke="#333" stroke-width="0.9"/>
<circle cx="114.7" cy="702.5" r="2.0" fill="none" stroke="#333" stroke-width="0.9"/>
<circle cx="114.7" cy="714.5" r="2.0" fill="none" stroke="#333" stroke-width="0.9"/>
<circle cx="114.7" cy="717.5" r="2.0" fill="none" stroke="#333" stroke-width="0.9"/>
<line x1="215.1" y1="577.8" x2="215.1" y2="615.8" stroke="#444" stroke-width="0.9" stroke-dasharray="2,2"/>
<line x1="215.1" y1="682.2" x2="215.1" y2="713.3" stroke="#444" stroke-width="0.9" stroke-dasharray="2,2"/>
<line x1="195" y1="577.8" x2="235.3" y2="577.8" stroke="#8a8a8a" stroke-width="1.4"/>
<line x1="195" y1="713.3" x2="235.3" y2="713.3" stroke="#8a8a8a" stroke-width="1.4"/>
<rect x="175" y="615.8" width="80.30000000000001" height="66.40000000000009" fill="#0000ff" stroke="#333" stroke-width="1"/>
<line x1="175" y1="642.3" x2="255.3" y2="642.3" stroke="#111" stroke-width="2.2"/>
<circle cx="215.1" cy="557.5" r="2.0" fill="none" stroke="#333" stroke-width="0.9"/>
<circle cx="215.1" cy="576.9" r="2.0" fill="none" stroke="#333" stroke-width="0.9"/>
<circle cx="215.1" cy="578.4" r="2.0" fill="none" stroke="#333" stroke-width="0.9"/>
<circle cx="215.1" cy="580.7" r="2.0" fill="none" stroke="#333" stroke-width="0.9"/>
<circle cx="215.1" cy="587.4" r="2.0" fill="none" stroke="#333" stroke-width="0.9"/>
<circle cx="215.1" cy="588.2" r="2.0" fill="none" stroke="#333" stroke-width="0.9"/>
<circle cx="215.1" cy="610.6" r="2.0" fill="none" stroke="#333" stroke-width="0.9"/>
<circle cx="215.1" cy="614.3" r="2.0" fill="none" stroke="#333" stroke-width="0.9"/>
<circle cx="215.1" cy="619.6" r="2.0" fill="none" stroke="#333" stroke-width="0.9"/>
<circle cx="215.1" cy="626.3" r="2.0" fill="none" stroke="#333" stroke-width="0.9"/>
<circle cx="215.1" cy="635" r="2.0" fill="none" stroke="#333" stroke-width="0.9"/>
<circle cx="215.1" cy="640.5" r="2.0" fill="none" stroke="#333" stroke-width="0.9"/>
<circle cx="215.1" cy="643.5" r="2.0" fill="none" stroke="#333" stroke-width="0.9"/>
<circle cx="215.1" cy="645.8" r="2.0" fill="none" stroke="#333" stroke-width="0.9"/>
<circle cx="215.1" cy="659.2" r="2.0" fill="none" stroke="#333" stroke-width="0.9"/>
<circle cx="215.1" cy="666" r="2.0" fill="none" stroke="#333" stroke-width="0.9"/>
<circle cx="215.1" cy="676.7" r="2.0" fill="none" stroke="#333" stroke-width="0.9"/>
<circle cx="215.1" cy="684.1" r="2.0" fill="none" stroke="#333" stroke-width="0.9"/>
<circle cx="215.1" cy="686.4" r="2.0" fill="none" stroke="#333" stroke-width="0.9"/>
<circle cx="215.1" cy="690.1" r="2.0" fill="none" stroke="#333" stroke-width="0.9"/>
<circle cx="215.1" cy="693.9" r="2.0" fill="none" stroke="#333" stroke-width="0.9"/>
<circle cx="215.1" cy="713" r="2.0" fill="none" stroke="#333" stroke-width="0.9"/>
<circle cx="215.1" cy="717.5" r="2.0" fill="none" stroke="#333" stroke-width="0.9"/>
<line x1="75" y1="645.3" x2="255" y2="645.3" stroke="#ffffff" stroke-width="0.8" stroke-dasharray="1.5,1.5" opacity="0.45"/>
<line x1="75" y1="679.6" x2="255" y2="679.6" stroke="#ffffff" stroke-width="0.8" stroke-dasharray="1.5,1.5" opacity="0.45"/>
<path d="M164.24,553.60L163.80,549.60L162.20,549.60L161.76,553.60ZM163.80,549.60a0.80,0.80 0 1,0 -1.60,0a0.80,0.80 0 1,0 1.60,0ZM161.76,553.60L162.20,557.60L163.80,557.60L164.24,553.60ZM163.80,557.60a0.80,0.80 0 1,0 -1.60,0a0.80,0.80 0 1,0 1.60,0ZM163.62,554.67L166.86,552.29L166.06,550.91L162.38,552.53ZM167.26,551.60a0.80,0.80 0 1,0 -1.60,0a0.80,0.80 0 1,0 1.60,0ZM162.38,552.53L159.14,554.91L159.94,556.29L163.62,554.67ZM160.34,555.60a0.80,0.80 0 1,0 -1.60,0a0.80,0.80 0 1,0 1.60,0ZM162.38,554.67L166.06,556.29L166.86,554.91L163.62,552.53ZM167.26,555.60a0.80,0.80 0 1,0 -1.60,0a0.80,0.80 0 1,0 1.60,0ZM163.62,552.53L159.94,550.91L159.14,552.29L162.38,554.67ZM160.34,551.60a0.80,0.80 0 1,0 -1.60,0a0.80,0.80 0 1,0 1.60,0Z" fill="#000"/>
<circle cx="163" cy="553.6" r="1.36" fill="#000"/>
<line x1="114.5" y1="739.5" x2="215.4" y2="739.5" stroke="#777" stroke-width="1.2"/>
<line x1="114.5" y1="739.5" x2="114.5" y2="744.4" stroke="#777" stroke-width="1.2"/>
<line x1="215.4" y1="739.5" x2="215.4" y2="744.4" stroke="#777" stroke-width="1.2"/>
<path d="M48.25,788.20L47.88,785.78L46.52,785.78L46.15,788.20ZM47.88,785.78a0.68,0.68 0 1,0 -1.36,0a0.68,0.68 0 1,0 1.36,0ZM46.15,788.20L46.52,790.62L47.88,790.62L48.25,788.20ZM47.88,790.62a0.68,0.68 0 1,0 -1.36,0a0.68,0.68 0 1,0 1.36,0ZM47.73,789.11L49.64,787.58L48.96,786.40L46.67,787.29ZM49.98,786.99a0.68,0.68 0 1,0 -1.36,0a0.68,0.68 0 1,0 1.36,0ZM46.67,787.29L44.76,788.82L45.44,790.00L47.73,789.11ZM45.78,789.41a0.68,0.68 0 1,0 -1.36,0a0.68,0.68 0 1,0 1.36,0ZM46.67,789.11L48.96,790.00L49.64,788.82L47.73,787.29ZM49.98,789.41a0.68,0.68 0 1,0 -1.36,0a0.68,0.68 0 1,0 1.36,0ZM47.73,787.29L45.44,786.40L44.76,787.58L46.67,789.11ZM45.78,786.99a0.68,0.68 0 1,0 -1.36,0a0.68,0.68 0 1,0 1.36,0Z" fill="#000"/>
<circle cx="47.2" cy="788.2" r="1.16" fill="#000"/>
<line x1="423" y1="561.9" x2="632" y2="561.9" stroke="#f1f1f1" stroke-width="1.2"/>
<line x1="423" y1="604.7" x2="632" y2="604.7" stroke="#f1f1f1" stroke-width="1.2"/>
<line x1="423" y1="647.5" x2="632" y2="647.5" stroke="#f1f1f1" stroke-width="1.2"/>
<line x1="423" y1="690.3" x2="632" y2="690.3" stroke="#f1f1f1" stroke-width="1.2"/>
<line x1="423" y1="733.1" x2="632" y2="733.1" stroke="#f1f1f1" stroke-width="1.2"/>
<line x1="422.4" y1="561.9" x2="422.4" y2="733.1" stroke="#8a8a8a" stroke-width="1.2"/>
<line x1="416.5" y1="561.9" x2="422.4" y2="561.9" stroke="#8a8a8a" stroke-width="1.2"/>
<text x="412.3" y="565.3" font-size="9.8" fill="#333" text-anchor="end" stroke="#333" stroke-width="0.2">100</text>
<line x1="416.5" y1="604.7" x2="422.4" y2="604.7" stroke="#8a8a8a" stroke-width="1.2"/>
<text x="412.3" y="608.1" font-size="9.8" fill="#333" text-anchor="end" stroke="#333" stroke-width="0.2">95</text>
<line x1="416.5" y1="647.5" x2="422.4" y2="647.5" stroke="#8a8a8a" stroke-width="1.2"/>
<text x="412.3" y="650.9" font-size="9.8" fill="#333" text-anchor="end" stroke="#333" stroke-width="0.2">90</text>
<line x1="416.5" y1="690.3" x2="422.4" y2="690.3" stroke="#8a8a8a" stroke-width="1.2"/>
<text x="412.3" y="693.6999999999999" font-size="9.8" fill="#333" text-anchor="end" stroke="#333" stroke-width="0.2">85</text>
<line x1="416.5" y1="733.1" x2="422.4" y2="733.1" stroke="#8a8a8a" stroke-width="1.2"/>
<text x="412.3" y="736.5" font-size="9.8" fill="#333" text-anchor="end" stroke="#333" stroke-width="0.2">80</text>
<line x1="478.2" y1="573.6" x2="478.2" y2="575.6" stroke="#444" stroke-width="0.9" stroke-dasharray="2,2"/>
<line x1="478.2" y1="598.2" x2="478.2" y2="622.6" stroke="#444" stroke-width="0.9" stroke-dasharray="2,2"/>
<line x1="458.9" y1="573.6" x2="498" y2="573.6" stroke="#8a8a8a" stroke-width="1.4"/>
<line x1="458.9" y1="622.6" x2="498" y2="622.6" stroke="#8a8a8a" stroke-width="1.4"/>
<rect x="439.4" y="575.6" width="77.70000000000005" height="22.600000000000023" fill="#ff0000" stroke="#333" stroke-width="1"/>
<line x1="439.4" y1="585.9" x2="517.1" y2="585.9" stroke="#111" stroke-width="2.2"/>
<circle cx="478.2" cy="567.7" r="2.0" fill="none" stroke="#333" stroke-width="0.9"/>
<circle cx="478.2" cy="573.7" r="2.0" fill="none" stroke="#333" stroke-width="0.9"/>
<circle cx="478.2" cy="579.7" r="2.0" fill="none" stroke="#333" stroke-width="0.9"/>
<circle cx="478.2" cy="586.1" r="2.0" fill="none" stroke="#333" stroke-width="0.9"/>
<circle cx="478.2" cy="592.1" r="2.0" fill="none" stroke="#333" stroke-width="0.9"/>
<circle cx="478.2" cy="598.4" r="2.0" fill="none" stroke="#333" stroke-width="0.9"/>
<circle cx="478.2" cy="604.4" r="2.0" fill="none" stroke="#333" stroke-width="0.9"/>
<circle cx="478.2" cy="616.4" r="2.0" fill="none" stroke="#333" stroke-width="0.9"/>
<circle cx="478.2" cy="622.6" r="2.0" fill="none" stroke="#333" stroke-width="0.9"/>
<circle cx="478.2" cy="647" r="2.0" fill="none" stroke="#333" stroke-width="0.9"/>
<line x1="574.9" y1="567.5" x2="574.9" y2="573.6" stroke="#444" stroke-width="0.9" stroke-dasharray="2,2"/>
<line x1="574.9" y1="604.2" x2="574.9" y2="645.3" stroke="#444" stroke-width="0.9" stroke-dasharray="2,2"/>
<line x1="555.6" y1="567.5" x2="594.5" y2="567.5" stroke="#8a8a8a" stroke-width="1.4"/>
<line x1="555.6" y1="645.3" x2="594.5" y2="645.3" stroke="#8a8a8a" stroke-width="1.4"/>
<rect x="536.1" y="573.6" width="78.0" height="30.600000000000023" fill="#0000ff" stroke="#333" stroke-width="1"/>
<line x1="536.1" y1="586" x2="614.1" y2="586" stroke="#111" stroke-width="2.2"/>
<circle cx="574.9" cy="567.5" r="2.0" fill="none" stroke="#333" stroke-width="0.9"/>
<circle cx="574.9" cy="573.6" r="2.0" fill="none" stroke="#333" stroke-width="0.9"/>
<circle cx="574.9" cy="579.9" r="2.0" fill="none" stroke="#333" stroke-width="0.9"/>
<circle cx="574.9" cy="586" r="2.0" fill="none" stroke="#333" stroke-width="0.9"/>
<circle cx="574.9" cy="592.1" r="2.0" fill="none" stroke="#333" stroke-width="0.9"/>
<circle cx="574.9" cy="598.2" r="2.0" fill="none" stroke="#333" stroke-width="0.9"/>
<circle cx="574.9" cy="604.6" r="2.0" fill="none" stroke="#333" stroke-width="0.9"/>
<circle cx="574.9" cy="616.3" r="2.0" fill="none" stroke="#333" stroke-width="0.9"/>
<circle cx="574.9" cy="645.3" r="2.0" fill="none" stroke="#333" stroke-width="0.9"/>
<circle cx="574.9" cy="652.9" r="2.0" fill="none" stroke="#333" stroke-width="0.9"/>
<circle cx="574.9" cy="671.2" r="2.0" fill="none" stroke="#333" stroke-width="0.9"/>
<line x1="478.3" y1="738.6" x2="575.3" y2="738.6" stroke="#777" stroke-width="1.2"/>
<line x1="478.3" y1="738.6" x2="478.3" y2="742.7" stroke="#777" stroke-width="1.2"/>
<line x1="575.3" y1="738.6" x2="575.3" y2="742.7" stroke="#777" stroke-width="1.2"/>
<text x="2.18" y="13.8" font-size="16.2" font-weight="bold" fill="#111" stroke="#111" stroke-width="0.35" textLength="12.10" lengthAdjust="spacingAndGlyphs">A</text>
<text x="24.98" y="16.5" font-size="18.9" fill="#111" stroke="#111" stroke-width="0.2" textLength="275.83" lengthAdjust="spacingAndGlyphs">Picture naming: Voice onset time</text>
<text x="142.80" y="64.6" font-size="12.8" font-weight="bold" fill="#111" stroke="#111" stroke-width="0.35" textLength="90.23" lengthAdjust="spacingAndGlyphs">CLP bilinguals</text>
<text x="542.58" y="65.4" font-size="12.8" font-weight="bold" fill="#111" stroke="#111" stroke-width="0.35" textLength="92.94" lengthAdjust="spacingAndGlyphs">DLP bilinguals</text>
<text x="85.88" y="349.4" font-size="10.8" font-weight="bold" fill="#1a1a1a" stroke="#1a1a1a" stroke-width="0.35" textLength="57.23" lengthAdjust="spacingAndGlyphs">Non-switch</text>
<text x="160.18" y="349.4" font-size="10.8" font-weight="bold" fill="#1a1a1a" stroke="#1a1a1a" stroke-width="0.35" textLength="33.94" lengthAdjust="spacingAndGlyphs">Switch</text>
<text x="216.27" y="349.4" font-size="10.8" font-weight="bold" fill="#1a1a1a" stroke="#1a1a1a" stroke-width="0.35" textLength="57.46" lengthAdjust="spacingAndGlyphs">Non-switch</text>
<text x="291.07" y="349.4" font-size="10.8" font-weight="bold" fill="#1a1a1a" stroke="#1a1a1a" stroke-width="0.35" textLength="34.49" lengthAdjust="spacingAndGlyphs">Switch</text>
<text x="144.37" y="380.2" font-size="10.8" font-weight="bold" fill="#1a1a1a" stroke="#1a1a1a" stroke-width="0.35" textLength="11.16" lengthAdjust="spacingAndGlyphs">L1</text>
<text x="271.14" y="380.2" font-size="10.8" font-weight="bold" fill="#1a1a1a" stroke="#1a1a1a" stroke-width="0.35" textLength="10.86" lengthAdjust="spacingAndGlyphs">L2</text>
<text x="459.07" y="346.8" font-size="10.8" font-weight="bold" fill="#1a1a1a" stroke="#1a1a1a" stroke-width="0.35" textLength="57.55" lengthAdjust="spacingAndGlyphs">Non-switch</text>
<text x="534.08" y="346.8" font-size="10.8" font-weight="bold" fill="#1a1a1a" stroke="#1a1a1a" stroke-width="0.35" textLength="34.38" lengthAdjust="spacingAndGlyphs">Switch</text>
<text x="590.19" y="346.8" font-size="10.8" font-weight="bold" fill="#1a1a1a" stroke="#1a1a1a" stroke-width="0.35" textLength="57.63" lengthAdjust="spacingAndGlyphs">Non-switch</text>
<text x="664.66" y="346.8" font-size="10.8" font-weight="bold" fill="#1a1a1a" stroke="#1a1a1a" stroke-width="0.35" textLength="34.06" lengthAdjust="spacingAndGlyphs">Switch</text>
<text x="518.55" y="377.9" font-size="10.8" font-weight="bold" fill="#1a1a1a" stroke="#1a1a1a" stroke-width="0.35" textLength="10.40" lengthAdjust="spacingAndGlyphs">L1</text>
<text x="645.26" y="377.9" font-size="10.8" font-weight="bold" fill="#1a1a1a" stroke="#1a1a1a" stroke-width="0.35" textLength="10.97" lengthAdjust="spacingAndGlyphs">L2</text>
<text x="89.97" y="416.2" font-size="14.0" font-weight="bold" fill="#111" stroke="#111" stroke-width="0.35" textLength="55.37" lengthAdjust="spacingAndGlyphs">p&lt;0.001</text>
<text x="2.50" y="482.4" font-size="16.2" font-weight="bold" fill="#111" stroke="#111" stroke-width="0.35" textLength="11.46" lengthAdjust="spacingAndGlyphs">B</text>
<text x="25.19" y="483.0" font-size="18.9" fill="#111" stroke="#111" stroke-width="0.2" textLength="364.81" lengthAdjust="spacingAndGlyphs">Non-linguistic switching: CLP vs. DLP groups</text>
<text x="96.47" y="536.6" font-size="18.9" fill="#111" stroke="#111" stroke-width="0.2" textLength="122.23" lengthAdjust="spacingAndGlyphs">Response time</text>
<text x="436.18" y="536.8" font-size="18.9" fill="#111" stroke="#111" stroke-width="0.2" textLength="158.63" lengthAdjust="spacingAndGlyphs">Response accuracy</text>
<text x="110.41" y="768.7" font-size="12.2" font-weight="bold" fill="#111" stroke="#111" stroke-width="0.35" textLength="22.18" lengthAdjust="spacingAndGlyphs">CLP</text>
<text x="212.21" y="768.9" font-size="12.2" font-weight="bold" fill="#111" stroke="#111" stroke-width="0.35" textLength="24.29" lengthAdjust="spacingAndGlyphs">DLP</text>
<text x="465.18" y="768.8" font-size="12.2" font-weight="bold" fill="#111" stroke="#111" stroke-width="0.35" textLength="24.67" lengthAdjust="spacingAndGlyphs">CLP</text>
<text x="567.42" y="768.8" font-size="12.2" font-weight="bold" fill="#111" stroke="#111" stroke-width="0.35" textLength="25.71" lengthAdjust="spacingAndGlyphs">DLP</text>
<text x="55.16" y="795.8" font-size="13.4" font-weight="bold" fill="#111" stroke="#111" stroke-width="0.35" textLength="46.56" lengthAdjust="spacingAndGlyphs">p&lt;0.05</text>
<rect x="15" y="10.2" width="5.3" height="1.6" fill="#111"/>
<rect x="14.8" y="476.8" width="5" height="1.7" fill="#111"/>
</svg></body></html>
